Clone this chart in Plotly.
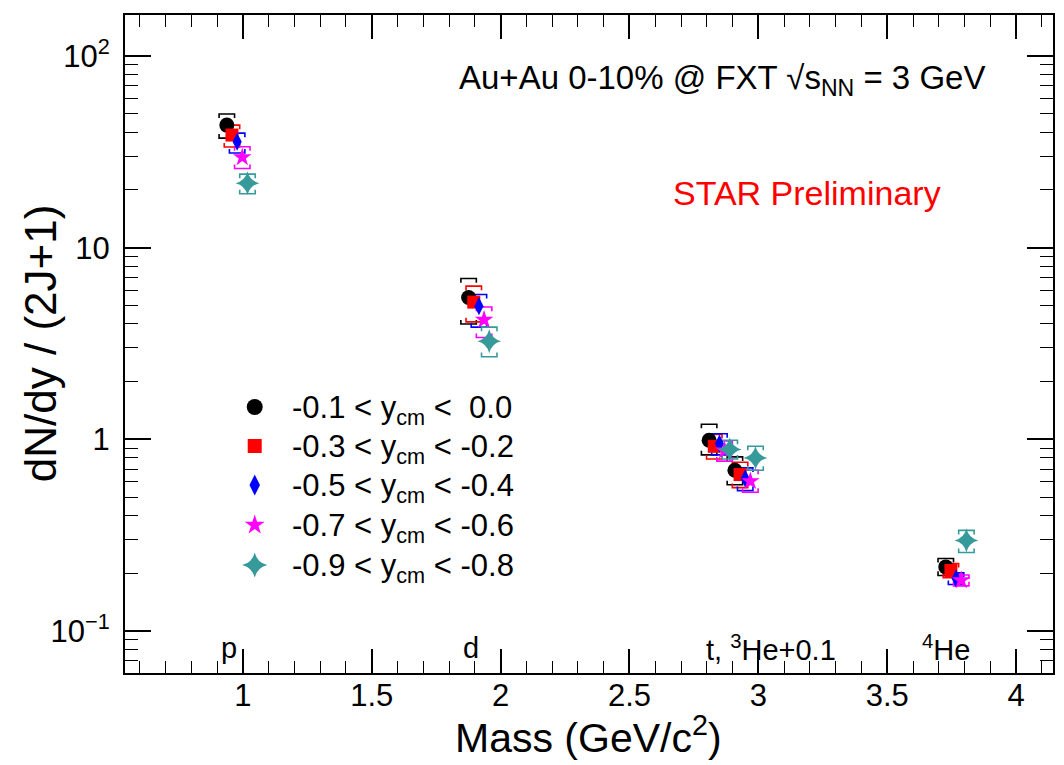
import plotly.graph_objects as go

# Light nuclei: masses in GeV/c^2 (3He drawn at m + 0.1 to separate it from t)
species = ["p", "d", "t", "3He", "4He"]
mass = [0.938, 1.876, 2.809, 2.909, 3.727]

# Rapidity bins, drawn with a small x offset each
bin_lo = ["-0.1", "-0.3", "-0.5", "-0.7", "-0.9"]
bin_hi = ["\u00a0\u00a00.0", " -0.2", " -0.4", " -0.6", " -0.8"]
x_shift = [0.0, 0.02, 0.04, 0.06, 0.08]

# dN/dy / (2J+1) per rapidity bin, species order as above
val_y00 = [43.6, 5.50, 0.99, 0.690, 0.216]
val_y02 = [38.7, 5.20, 0.92, 0.655, 0.207]
val_y04 = [35.7, 4.95, 0.95, 0.625, 0.188]
val_y06 = [29.6, 4.20, 0.875, 0.605, 0.184]
val_y08 = [21.7, 3.25, 0.885, 0.800, 0.297]

# systematic uncertainty band (lower / upper edge)
sys_lo_y00 = [37.3, 4.00, 0.83, 0.58, 0.195]
sys_hi_y00 = [49.8, 6.90, 1.20, 0.81, 0.239]
sys_lo_y02 = [33.5, 4.10, 0.79, 0.56, 0.190]
sys_hi_y02 = [43.6, 6.30, 1.06, 0.76, 0.225]
sys_lo_y04 = [31.2, 3.85, 0.83, 0.54, 0.175]
sys_hi_y04 = [39.6, 5.70, 1.07, 0.71, 0.201]
sys_lo_y06 = [25.9, 3.40, 0.77, 0.53, 0.172]
sys_hi_y06 = [33.6, 4.90, 0.98, 0.69, 0.196]
sys_lo_y08 = [19.1, 2.70, 0.79, 0.69, 0.257]
sys_hi_y08 = [24.2, 3.85, 0.99, 0.92, 0.335]

values = [val_y00, val_y02, val_y04, val_y06, val_y08]
sys_lo = [sys_lo_y00, sys_lo_y02, sys_lo_y04, sys_lo_y06, sys_lo_y08]
sys_hi = [sys_hi_y00, sys_hi_y02, sys_hi_y04, sys_hi_y06, sys_hi_y08]

colors = ["#000000", "#ff0000", "#0000ff", "#ff00ff", "#379a9a"]
symbols = ["circle", "square", "diamond-tall", "star", "star-diamond"]
sizes = [15, 13, 13, 14, 17]
leg_sizes = [16, 14, 15, 15, 18]

FONT = "Liberation Sans, Arial, Helvetica, sans-serif"

# frame of the plotting area in figure pixels
W, H = 1064, 765
L, R, T, B = 125, 9, 15, 92
PW, PH = W - L - R, H - T - B


def px(x):
    return (x - L) / PW


def py(y):
    return (H - B - y) / PH


fig = go.Figure()

# systematic brackets: horizontal bar with short end ticks pointing inward
half_w = 0.03
tick_f = 1.05
for i in range(5):
    bx, by = [], []
    for j in range(len(mass)):
        x = mass[j] + x_shift[i]
        lo, hi = sys_lo[i][j], sys_hi[i][j]
        bx += [x - half_w, x - half_w, x + half_w, x + half_w, None]
        by += [hi / tick_f, hi, hi, hi / tick_f, None]
        bx += [x - half_w, x - half_w, x + half_w, x + half_w, None]
        by += [lo * tick_f, lo, lo, lo * tick_f, None]
    fig.add_trace(go.Scatter(x=bx, y=by, mode="lines", showlegend=False,
                             line=dict(color=colors[i], width=1.6),
                             hoverinfo="skip"))

# central values
for i in range(5):
    fig.add_trace(go.Scatter(
        x=[m + x_shift[i] for m in mass], y=values[i], mode="markers",
        showlegend=False,
        marker=dict(symbol=symbols[i], size=sizes[i], color=colors[i],
                    line=dict(width=0))))

# legend drawn in a pixel-space overlay
leg_rows = [407, 446, 485, 525, 565]
for i in range(5):
    fig.add_trace(go.Scatter(
        x=[255], y=[leg_rows[i]], xaxis="x2", yaxis="y2", mode="markers",
        showlegend=False, cliponaxis=False,
        marker=dict(symbol=symbols[i], size=leg_sizes[i], color=colors[i],
                    line=dict(width=0))))

ann = []
for i in range(5):
    ann.append(dict(x=px(290), y=py(leg_rows[i] + 3), xref="paper",
                    yref="paper", xanchor="left", yanchor="middle",
                    showarrow=False,
                    text=f"{bin_lo[i]} < y<sub>cm</sub> <{bin_hi[i]}",
                    font=dict(size=31, color="black", family=FONT)))

ann.append(dict(x=px(458), y=py(80), xref="paper", yref="paper",
                xanchor="left", yanchor="middle", showarrow=False,
                text="Au+Au 0-10% @ FXT \u221as<sub>NN</sub> = 3 GeV",
                font=dict(size=33, color="black", family=FONT)))
ann.append(dict(x=px(672), y=py(193), xref="paper", yref="paper",
                xanchor="left", yanchor="middle", showarrow=False,
                text="STAR Preliminary",
                font=dict(size=34, color="#ff0000", family=FONT)))

# species labels along the bottom of the frame
sp_labels = [("p", 229, "center"), ("d", 472, "center"),
             ("t, <sup>3</sup>He+0.1", 705, "left"),
             ("<sup>4</sup>He", 922, "left")]
for txt, xp, anc in sp_labels:
    ann.append(dict(x=px(xp), y=py(648), xref="paper", yref="paper",
                    xanchor=anc, yanchor="middle", showarrow=False, text=txt,
                    font=dict(size=29, color="black", family=FONT)))

# axis titles
ann.append(dict(x=px(589), y=py(735), xref="paper", yref="paper",
                xanchor="center", yanchor="middle", showarrow=False,
                text="Mass (GeV/c<sup>2</sup>)",
                font=dict(size=41, color="black", family=FONT)))
ann.append(dict(x=px(40), y=py(343), xref="paper", yref="paper",
                xanchor="center", yanchor="middle", showarrow=False,
                textangle=-90, text="dN/dy / (2J+1)",
                font=dict(size=44, color="black", family=FONT)))

minor_y = [k * 10.0 ** e for e in range(-2, 3) for k in range(2, 10)]

fig.update_layout(
    width=W, height=H,
    margin=dict(l=L, r=R, t=T, b=B, pad=0),
    paper_bgcolor="white", plot_bgcolor="white",
    font=dict(family=FONT, color="black"),
    annotations=ann,
    xaxis=dict(range=[0.543, 4.143], tickvals=[1, 1.5, 2, 2.5, 3, 3.5, 4],
               ticktext=["1", "1.5", "2", "2.5", "3", "3.5", "4"],
               ticks="inside", ticklen=24, tickwidth=1.5, tickcolor="black",
               minor=dict(ticks="inside", ticklen=12, tickwidth=1.2,
                          dtick=0.1, tick0=0, tickcolor="black"),
               showline=True, linewidth=2, linecolor="black", mirror="ticks",
               showgrid=False, zeroline=False,
               tickfont=dict(size=31, family=FONT), ticklabelstandoff=-6),
    yaxis=dict(type="log", range=[-1.219, 2.214],
               tickvals=[0.1, 1, 10, 100],
               ticktext=["10<sup>\u22121</sup>", "1", "10", "10<sup>2</sup>"],
               ticks="inside", ticklen=26, tickwidth=1.5, tickcolor="black",
               minor=dict(ticks="inside", ticklen=13, tickwidth=1.2,
                          tickmode="array", tickvals=minor_y,
                          tickcolor="black"),
               showline=True, linewidth=2, linecolor="black", mirror="ticks",
               showgrid=False, zeroline=False,
               tickfont=dict(size=31, family=FONT), ticklabelstandoff=7),
    xaxis2=dict(overlaying="x", range=[L, W - R], visible=False),
    yaxis2=dict(overlaying="y", range=[H - B, T], visible=False),
    showlegend=False,
)

fig.write_html("out.html")
